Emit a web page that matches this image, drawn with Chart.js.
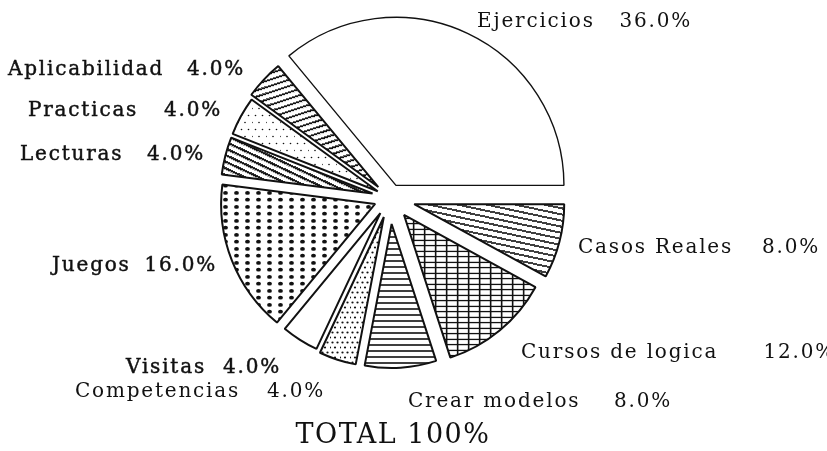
<!DOCTYPE html>
<html>
<head>
<meta charset="utf-8">
<script src="https://cdn.jsdelivr.net/npm/chart.js@4.4.1/dist/chart.umd.min.js"></script>
<style>
  html, body { margin: 0; padding: 0; background: #fff; }
  #marco { width: 827px; height: 451px; }
</style>
</head>
<body>
<div id="marco"><canvas id="grafico"></canvas></div>
<script>
const categorias = ['Ejercicios', 'Casos Reales', 'Cursos de logica', 'Crear modelos', 'Competencias',
                    'Visitas', 'Juegos', 'Lecturas', 'Practicas', 'Aplicabilidad'];
const porcentajes = [36, 8, 12, 8, 4, 4, 16, 4, 4, 4];
const titulo = 'TOTAL 100%';

// separacion de cada porcion desde el centro y su radio (px)
const separacion = [14, 25, 22, 26, 20, 18, 16, 18, 14, 16];
const radios = [168, 150, 150, 144, 150, 150, 154, 152, 156, 157];

// etiquetas: [x del nombre, x final del %, linea base]
const posEtiquetas = [
    [477, 692, 27],
    [578, 820, 253],
    [521, 836, 358],
    [408, 672, 407],
    [75, 325, 397],
    [126, 281, 373],
    [52, 217, 271],
    [20, 205, 160],
    [28, 222, 116],
    [8, 245, 75]
];
const negrita = [false, false, false, false, false, true, true, true, true, true];

const TINTA = '#111111';

function lineas(espacio, grosor, angulo) {
    const c = document.createElement('canvas');
    c.width = 20; c.height = espacio;
    const ctx = c.getContext('2d');
    ctx.fillStyle = '#fff';
    ctx.fillRect(0, 0, c.width, c.height);
    ctx.fillStyle = TINTA;
    ctx.fillRect(0, (espacio - grosor) / 2, c.width, grosor);
    const p = ctx.createPattern(c, 'repeat');
    p.setTransform(new DOMMatrix().rotateSelf(angulo));
    return p;
}

function puntos(ex, ey, rx, ry, escalonado) {
    const c = document.createElement('canvas');
    c.width = ex * 2; c.height = ey * 2;
    const ctx = c.getContext('2d');
    ctx.fillStyle = '#fff';
    ctx.fillRect(0, 0, c.width, c.height);
    ctx.fillStyle = TINTA;
    const pts = [[ex / 2, ey / 2], [ex * 1.5, ey / 2], [ex / 2, ey * 1.5], [ex * 1.5, ey * 1.5]];
    pts.forEach(([x, y], k) => {
        const dx = escalonado && k > 1 ? ex / 2 : 0;
        ctx.beginPath();
        ctx.ellipse((x + dx) % c.width, y, rx, ry, 0, 0, Math.PI * 2);
        ctx.fill();
    });
    return ctx.createPattern(c, 'repeat');
}

function rejilla(ex, ey) {
    const c = document.createElement('canvas');
    c.width = ex; c.height = ey * 2;
    const ctx = c.getContext('2d');
    ctx.fillStyle = '#fff';
    ctx.fillRect(0, 0, c.width, c.height);
    ctx.fillStyle = TINTA;
    ctx.fillRect(ex / 2, 0, 1.6, c.height);
    ctx.fillRect(0, ey / 2, ex, 1.3);
    ctx.fillRect(0, ey * 1.5, ex, 1.3);
    return ctx.createPattern(c, 'repeat');
}

const tramas = [
    '#ffffff',
    lineas(6, 1.6, 12),
    rejilla(11.7, 5.85),
    lineas(6, 1.6, 0),
    puntos(5, 5, 1.1, 1.1, true),
    '#ffffff',
    puntos(11, 7.3, 2.4, 1.9, false),
    lineas(6.5, 2.2, 25),
    puntos(7, 7, 0.8, 0.8, true),
    lineas(6.5, 1.8, -18)
];

// mueve cada porcion hacia fuera y fija su radio
const explotar = {
    id: 'explotar',
    afterDatasetsUpdate(chart) {
        const cx = (chart.chartArea.left + chart.chartArea.right) / 2;
        const cy = (chart.chartArea.top + chart.chartArea.bottom) / 2;
        chart.getDatasetMeta(0).data.forEach((arco, i) => {
            const medio = (arco.startAngle + arco.endAngle) / 2;
            arco.x = cx + Math.cos(medio) * separacion[i];
            arco.y = cy + Math.sin(medio) * separacion[i];
            arco.outerRadius = radios[i];
        });
    },
    beforeDatasetsDraw(chart) {
        chart.ctx.imageSmoothingEnabled = false;
    }
};

const textos = {
    id: 'textos',
    afterDraw(chart) {
        const ctx = chart.ctx;
        ctx.save();
        ctx.fillStyle = TINTA;
        ctx.strokeStyle = TINTA;
        ctx.lineWidth = 0.45;
        ctx.textBaseline = 'alphabetic';
        ctx.letterSpacing = '1.8px';
        ctx.font = '20px "DejaVu Serif"';
        categorias.forEach((nombre, i) => {
            const [xn, xp, yb] = posEtiquetas[i];
            const pct = porcentajes[i].toFixed(1) + '%';
            ctx.textAlign = 'left';
            ctx.fillText(nombre, xn, yb);
            if (negrita[i]) ctx.strokeText(nombre, xn, yb);
            ctx.textAlign = 'right';
            ctx.fillText(pct, xp, yb);
            if (negrita[i]) ctx.strokeText(pct, xp, yb);
        });
        ctx.letterSpacing = '1.5px';
        ctx.font = '27px "DejaVu Serif"';
        ctx.textAlign = 'center';
        ctx.fillText(titulo, 393, 443);
        ctx.restore();
    }
};

new Chart(document.getElementById('grafico'), {
    type: 'pie',
    data: {
        labels: categorias,
        datasets: [{
            data: porcentajes,
            backgroundColor: tramas,
            borderColor: TINTA,
            borderWidth: [1.4, 2, 2, 2, 2, 2, 2, 2, 2, 2]
        }]
    },
    options: {
        responsive: true,
        maintainAspectRatio: false,
        animation: false,
        events: [],
        rotation: -39.6,
        layout: { padding: { left: 0, right: 47, top: 0, bottom: 55 } },
        plugins: {
            legend: { display: false },
            tooltip: { enabled: false }
        }
    },
    plugins: [explotar, textos]
});
</script>
</body>
</html>
